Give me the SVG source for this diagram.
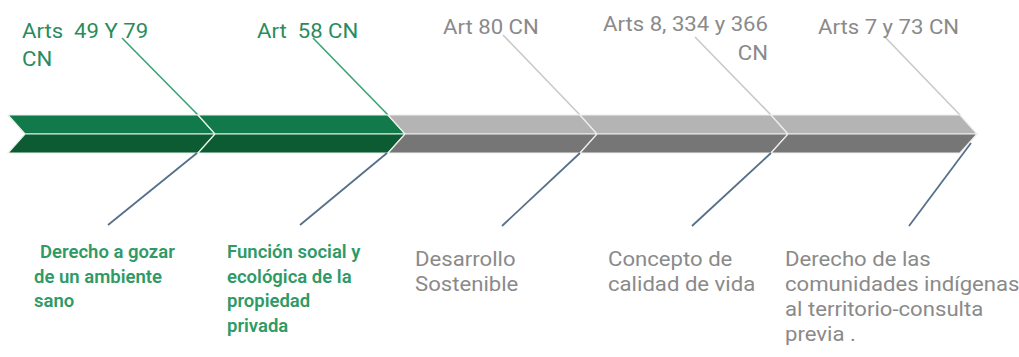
<svg xmlns="http://www.w3.org/2000/svg" width="1019" height="357" viewBox="0 0 1019 357">
<style>
.t{font-family:Roboto,"Liberation Sans",sans-serif;font-size:20.5px;white-space:pre}
.tg{fill:#2a8c5e}
.gy{fill:#8a8a8a}
.bg{font-family:Roboto,"Liberation Sans",sans-serif;font-size:18.5px;font-weight:600;fill:#2e9a66}
.gt{fill:#12794a;stroke:#e6f2ea;stroke-width:1.2}
.gb{fill:#0c5b33;stroke:#e6f2ea;stroke-width:1.2}
.yt{fill:#b4b4b4;stroke:#eeeeee;stroke-width:1.2}
.yb{fill:#767676;stroke:#eeeeee;stroke-width:1.2}
.lg{stroke:#3aa374;stroke-width:1.6;fill:none}
.ly{stroke:#c9c9c9;stroke-width:1.6;fill:none}
.lb{stroke:#56708a;stroke-width:1.8;fill:none}
</style>
<g id="connectors">
<line class="lg" x1="122" y1="38" x2="198" y2="115"/>
<line class="lg" x1="313" y1="38" x2="388" y2="115"/>
<line class="ly" x1="503" y1="35" x2="580" y2="115"/>
<line class="ly" x1="695" y1="37" x2="771" y2="115"/>
<line class="ly" x1="884" y1="36" x2="960" y2="115"/>
</g>
<g id="seg1">
<polygon class="gt" points="8,115 198,115 215,134 25,134"/>
<polygon class="gb" points="25,134 215,134 198,153 8,153"/>
<text class="t tg" transform="translate(22,38) scale(1.08,1)">Arts  49 Y 79</text>
<text class="t tg" transform="translate(22,66) scale(1.08,1)">CN</text>
<text class="bg" x="40" y="258">Derecho a gozar</text>
<text class="bg" x="34" y="283">de un ambiente</text>
<text class="bg" x="34" y="307">sano</text>
</g>
<g id="seg2">
<polygon class="gt" points="198,115 388,115 405,134 215,134"/>
<polygon class="gb" points="215,134 405,134 388,153 198,153"/>
<text class="t tg" transform="translate(257,38) scale(1.08,1)">Art  58 CN</text>
<text class="bg" x="227" y="258">Función social y</text>
<text class="bg" x="227" y="283">ecológica de la</text>
<text class="bg" x="227" y="307">propiedad</text>
<text class="bg" x="227" y="332">privada</text>
</g>
<g id="seg3">
<polygon class="yt" points="388,115 580,115 597,134 405,134"/>
<polygon class="yb" points="405,134 597,134 580,153 388,153"/>
<text class="t gy" transform="translate(443,34) scale(1.08,1)">Art 80 CN</text>
<text class="t gy" transform="translate(415,266) scale(1.08,1)">Desarrollo</text>
<text class="t gy" transform="translate(415,291) scale(1.08,1)">Sostenible</text>
</g>
<g id="seg4">
<polygon class="yt" points="580,115 771,115 788,134 597,134"/>
<polygon class="yb" points="597,134 788,134 771,153 580,153"/>
<text class="t gy" transform="translate(603,31) scale(1.08,1)">Arts 8, 334 y 366</text>
<text class="t gy" transform="translate(768,60) scale(1.08,1)" text-anchor="end">CN</text>
<text class="t gy" transform="translate(608,266) scale(1.08,1)">Concepto de</text>
<text class="t gy" transform="translate(608,291) scale(1.08,1)">calidad de vida</text>
</g>
<g id="seg5">
<polygon class="yt" points="771,115 960,115 977,134 788,134"/>
<polygon class="yb" points="788,134 977,134 960,153 771,153"/>
<text class="t gy" transform="translate(818,34) scale(1.08,1)">Arts 7 y 73 CN</text>
<text class="t gy" transform="translate(785,266) scale(1.08,1)">Derecho de las</text>
<text class="t gy" transform="translate(785,291) scale(1.08,1)">comunidades indígenas</text>
<text class="t gy" transform="translate(785,316) scale(1.08,1)">al territorio-consulta</text>
<text class="t gy" transform="translate(785,341) scale(1.08,1)">previa .</text>
</g>
<g id="connectors-lower">
<line class="lb" x1="197" y1="153" x2="108" y2="225"/>
<line class="lb" x1="387" y1="153" x2="300" y2="225"/>
<line class="lb" x1="580" y1="153" x2="502" y2="226"/>
<line class="lb" x1="771" y1="153" x2="692" y2="226"/>
<line class="lb" x1="971" y1="143" x2="909" y2="226"/>
</g>
</svg>
